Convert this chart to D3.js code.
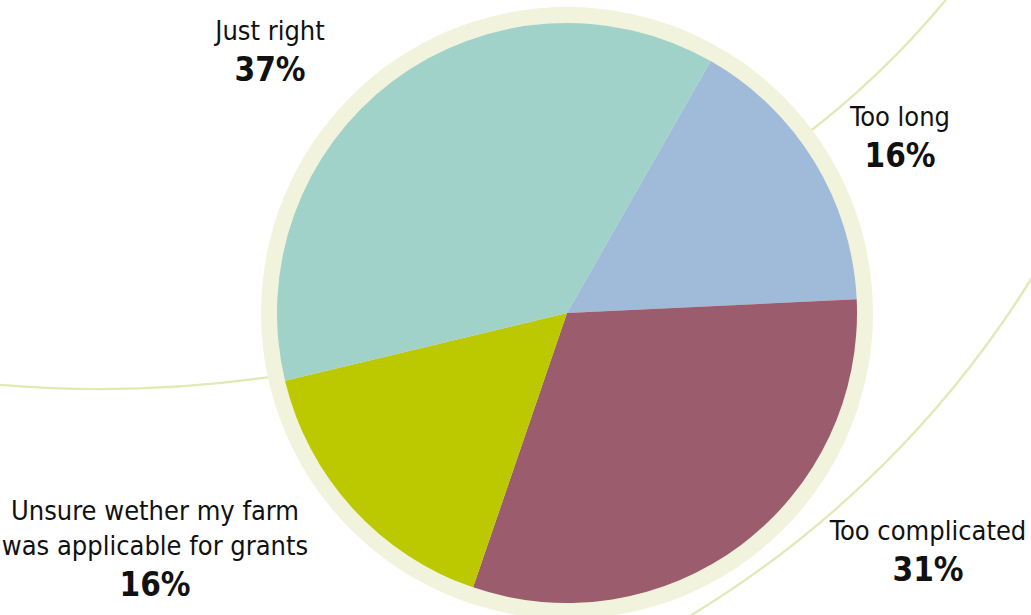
<!DOCTYPE html>
<html>
<head>
<meta charset="utf-8">
<script src="https://cdn.jsdelivr.net/npm/d3@7/dist/d3.min.js"></script>
<style>
  html, body { margin: 0; padding: 0; background: #ffffff; }
  svg { display: block; }
  .lbl { font-family: "DejaVu Sans Condensed", "DejaVu Sans", sans-serif; fill: #111; }
</style>
</head>
<body>
<svg id="chart" width="1031" height="615"></svg>
<script>
// Survey answers, in clockwise drawing order
const categories = ["Too long", "Too complicated", "Unsure wether my farm\nwas applicable for grants", "Just right"];
const values = [16, 31, 16, 37];
const colors = ["#a0bbd9", "#9b5d6d", "#bcc800", "#a0d2ca"];

// Layout
const W = 1031, H = 615;
const cx = 567, cy = 313;
const radius = 290, ringRadius = 306;
const startDeg = 29.7;

// Label anchors (centre of the text block, top line baseline)
const labelAnchor = [
  { x: 900, y: 126 },
  { x: 928, y: 540 },
  { x: 155, y: 520 },
  { x: 270, y: 40 }
];

// Background decorative sweeps: circle centre, radius, start/end angle (radians)
const swooshes = [
  { cx: 100, cy: -811, r: 1200, a0: 1.420, a1: 1.660 },
  { cx: 282, cy: -550, r: 862, a0: 0.680, a1: 0.930 },
  { cx: 156, cy: -266, r: 1031, a0: 0.530, a1: 1.045 }
];

const svg = d3.select("#chart");

svg.append("g").selectAll("path")
  .data(swooshes)
  .join("path")
  .attr("d", s => {
    const p = d3.path();
    p.arc(s.cx, s.cy, s.r, s.a0, s.a1, false);
    return p.toString();
  })
  .attr("fill", "none")
  .attr("stroke", "#e2e8b6")
  .attr("stroke-width", 2.3);

// Pale ring behind the pie
svg.append("circle")
  .attr("cx", cx).attr("cy", cy).attr("r", ringRadius)
  .attr("fill", "#f1f3dc");

const a0 = startDeg * Math.PI / 180;
const pie = d3.pie().sort(null).value(d => d).startAngle(a0).endAngle(a0 + 2 * Math.PI);
const arc = d3.arc().innerRadius(0).outerRadius(radius);
const color = d3.scaleOrdinal().domain(categories).range(colors);

const g = svg.append("g").attr("transform", `translate(${cx},${cy})`);
g.selectAll("path")
  .data(pie(values))
  .join("path")
  .attr("d", arc)
  .attr("fill", (d, i) => color(categories[i]));

// Labels
const lg = svg.append("g");
categories.forEach((name, i) => {
  const a = labelAnchor[i];
  const lines = name.split("\n");
  const t = lg.append("text")
    .attr("class", "lbl")
    .attr("text-anchor", "middle")
    .attr("x", a.x).attr("y", a.y)
    .style("font-size", "27px");
  lines.forEach((ln, k) => {
    t.append("tspan").attr("x", a.x).attr("dy", k === 0 ? 0 : 35).text(ln);
  });
  lg.append("text")
    .attr("class", "lbl")
    .attr("text-anchor", "middle")
    .attr("x", a.x)
    .attr("y", a.y + 35 * (lines.length - 1) + 41)
    .style("font-size", "33px")
    .style("font-weight", "bold")
    .text(values[i] + "%");
});
</script>
</body>
</html>
